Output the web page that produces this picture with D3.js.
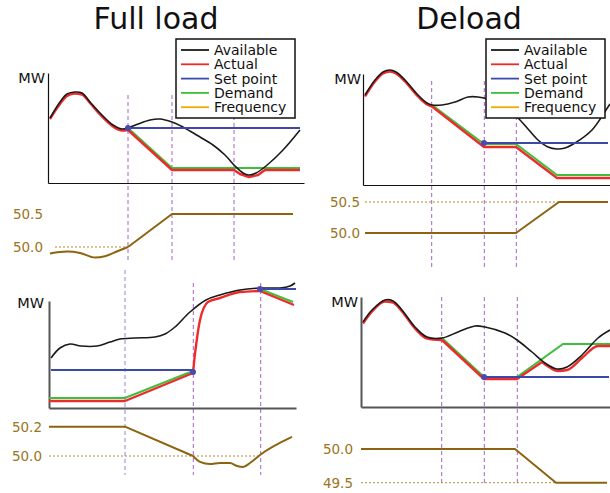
<!DOCTYPE html>
<html>
<head>
<meta charset="utf-8">
<script src="https://cdn.jsdelivr.net/npm/d3@7"></script>
<style>
  body { margin: 0; background: #fff; }
  svg { display: block; font-family: "DejaVu Sans", sans-serif; }
</style>
</head>
<body>
<svg id="chart" width="610" height="493"></svg>
<script>
// 범례
var legendLabels = ["Available", "Actual", "Set point", "Demand", "Frequency"];
var legendColors = ["#1a1a1a", "#ee2b2b", "#3b4aa8", "#3cc03c", "#f2a900"];

// Full load - MW (time, MW)
var tlAvailable = [[0.2,65],[1.2,81],[1.9,89],[2.7,91],[3.4,90],[4.2,81],[5.2,70],[6.5,58],[7.4,54],[8.0,55],[9.0,59],[10.2,63],[11.2,64],[12.4,61],[13.3,57],[14.2,52],[15.2,46],[16.5,38],[17.7,28],[18.7,17],[19.5,10],[20.1,8],[20.8,10],[21.8,17],[23.5,33],[25.2,53]];
var tlActualCurve = [[0.2,64],[1.2,79],[1.9,87],[2.7,89.5],[3.4,88.5],[4.2,80],[5.2,68.5],[6.5,56.5],[7.4,52.5],[8.0,53]];
var tlActual = [[8.0,53],[12.4,13],[18.6,13],[19.2,9],[20.1,6],[21.0,8],[21.7,13],[25.2,13]];
var tlDemand = [[8.0,55],[12.4,15],[25.2,15]];
var tlSetPoint = [[8.0,55],[25.2,55]];
var tlSetMarks = [[8.0,55]];
var tlMarks = [8.0, 12.4, 18.6];
var tlFreqCurve = [[0.2,49.90],[1.9,49.93],[3.2,49.91],[4.7,49.84],[5.7,49.86],[7.0,49.94],[8.0,50.0]];
var tlFreq = [[8.0,50.0],[12.4,50.5],[24.5,50.5]];
var tlFreqTicks = [50.0, 50.5];

// Deload - MW
var trAvailable = [[0.2,90],[1.2,105],[2.0,113],[2.7,115],[3.3,113],[4.2,105],[5.5,90],[6.4,82],[6.9,80],[7.9,80],[9.2,83],[10.5,88],[11.5,88],[12.4,86],[14.2,77],[15.5,67],[16.5,56],[17.5,45],[18.5,38],[19.4,36],[20.2,37],[21.2,42],[22.9,55],[24.5,78],[24.7,81]];
var trActualCurve = [[0.2,88.5],[1.2,103.5],[2.0,111.5],[2.7,113.5],[3.3,111.5],[4.2,103.5],[5.5,88.5],[6.4,80.5],[6.9,78.5]];
var trActual = [[6.9,78.5],[12.1,38],[15.3,38],[19.4,7],[24.7,7]];
var trDemand = [[6.9,80],[12.1,41],[15.3,41],[19.4,10],[24.7,10]];
var trSetPoint = [[12.1,42],[24.5,42]];
var trSetMarks = [[12.1,42]];
var trMarks = [6.87, 12.13, 15.33];
var trFreq = [[0.2,50.0],[15.3,50.0],[19.6,50.5],[24.5,50.5]];
var trFreqTicks = [50.0, 50.5];

// Full load (아래) - MW
var blAvailable = [[0.2,50],[1.1,60],[2.1,64],[3.2,62],[4.8,62],[6.1,66],[7.1,69],[8.6,70],[10.6,71],[11.6,74],[12.6,81],[14.1,96],[15.7,108],[17.1,113],[19.1,118],[21.1,120],[23.1,120],[24.1,122],[24.6,125]];
var blActual = [[0,7],[7.6,7],[14.4,35]];
var blActualCurve = [[14.4,35],[14.55,50],[14.75,66],[15.1,88],[15.9,106],[17.1,110],[19.1,116],[21.1,117]];
var blActualEnd = [[21.1,117],[24.5,103]];
var blDemand = [[0,10],[7.6,10],[14.4,37]];
var blDemandEnd = [[21.1,119],[24.4,106]];
var blSetPoint = [[0.2,38],[14.4,38]];
var blSetPointEnd = [[21.1,119],[24.7,119]];
var blSetMarks = [[14.4,36],[21.1,119]];
var blMarks = [7.6, 14.43, 21.17];
var blFreq = [[0,50.2],[7.6,50.2],[14.4,50.0]];
var blFreqCurve = [[14.4,50.0],[15.1,49.96],[16.1,49.945],[17.1,49.952],[18.1,49.952],[18.8,49.932],[19.4,49.925],[20.1,49.952],[21.1,50.007],[24.3,50.13]];
var blFreqTicks = [50.0, 50.2];

// Deload (아래) - MW
var brAvailable = [[0.2,85],[1.1,97],[2.4,107],[3.2,106],[4.1,97],[5.4,80],[6.6,70],[8.1,69],[9.7,75],[11.4,81],[12.4,80],[14.4,74],[15.6,67],[17.1,55],[18.4,44],[19.6,38],[20.6,40],[22.1,52],[23.7,69],[24.9,77]];
var brActualCurve = [[0.2,83.5],[1.1,95.5],[2.4,105.5],[3.2,104.5],[4.1,95.5],[5.4,78.5],[6.6,68.5],[8.1,67]];
var brActual = [[8.1,67],[12.3,28],[15.6,28],[18.1,45]];
var brActualEnd = [[18.1,45],[18.8,40],[19.7,36],[20.6,37],[22.1,49],[23.7,61],[24.9,61]];
var brDemand = [[8.1,69],[12.3,30],[15.6,30],[20.2,63],[24.9,63]];
var brSetPoint = [[12.3,30],[24.8,30]];
var brSetMarks = [[12.3,30]];
var brMarks = [8.07, 12.33, 15.63];
var brFreq = [[0,50.0],[15.4,50.0],[19.5,49.5],[24.6,49.5]];
var brFreqTicks = [49.5, 50.0];

var svg = d3.select("#chart");

var freqLine = "#8c6410", freqText = "#9a7420", refColor = "#b48a30", markColor = "#a860c8";

// 제목
svg.append("text").attr("x", 156).attr("y", 29).attr("text-anchor", "middle")
   .style("font-size", "30px").attr("fill", "#111").text("Full load");
svg.append("text").attr("x", 469).attr("y", 29).attr("text-anchor", "middle")
   .style("font-size", "30px").attr("fill", "#111").text("Deload");

// 패널 그리기
var drawPanel = function(p){
  var x = d3.scaleLinear().domain(p.xDomain).range(p.xRange);
  var y = d3.scaleLinear().domain(p.yDomain).range(p.yRange);
  var fy = d3.scaleLinear().domain(p.fDomain).range(p.fRange);
  var g = svg.append("g");

  var line = function(scaleY, curve){
    return d3.line().x(function(d){ return x(d[0]); }).y(function(d){ return scaleY(d[1]); }).curve(curve || d3.curveLinear);
  };

  // 세로 점선
  g.selectAll(".mark").data(p.marks).enter().append("line")
   .attr("x1", function(d){ return x(d); }).attr("x2", function(d){ return x(d); })
   .attr("y1", function(d, i){ return p.markTop[i]; }).attr("y2", p.markBottom)
   .attr("stroke", function(d, i){ return p.markColors ? p.markColors[i] : markColor; })
   .attr("stroke-width", 1).attr("stroke-dasharray", "4,3");

  // 축
  g.append("g").attr("transform", "translate(" + p.xRange[0] + ",0)")
   .call(d3.axisLeft(y).tickValues([]).tickSizeOuter(0))
   .select(".domain").attr("stroke", p.axisColor).attr("stroke-width", p.axisWidth);
  g.append("g").attr("transform", "translate(0," + p.yRange[0] + ")")
   .call(d3.axisBottom(x).tickValues([]).tickSizeOuter(0))
   .select(".domain").attr("stroke", p.axisColor).attr("stroke-width", p.axisWidth);

  g.append("text").attr("x", p.mwX).attr("y", p.mwY).attr("text-anchor", "end")
   .style("font-size", "14.5px").attr("fill", "#111").text("MW");

  // MW 선들
  p.demand.forEach(function(s){
    g.append("path").datum(s).attr("fill", "none").attr("stroke", legendColors[3])
     .attr("stroke-width", 2).attr("d", line(y));
  });
  p.actual.forEach(function(s){
    g.append("path").datum(s.data).attr("fill", "none").attr("stroke", legendColors[1])
     .attr("stroke-width", 2.4).attr("stroke-linejoin", "round")
     .attr("d", line(y, s.smooth ? d3.curveMonotoneX : d3.curveLinear));
  });
  g.append("path").datum(p.available).attr("fill", "none").attr("stroke", legendColors[0])
   .attr("stroke-width", 1.6).attr("d", line(y, d3.curveCatmullRom.alpha(0.5)));
  p.setPoint.forEach(function(s){
    g.append("path").datum(s).attr("fill", "none").attr("stroke", legendColors[2])
     .attr("stroke-width", 1.8).attr("d", line(y));
  });
  g.selectAll(".setmark").data(p.setMarks).enter().append("circle")
   .attr("cx", function(d){ return x(d[0]); }).attr("cy", function(d){ return y(d[1]); })
   .attr("r", 3).attr("fill", "#4a4ab0");

  // 주파수
  g.append("line").attr("x1", x(p.fRef[0])).attr("x2", x(p.fRef[1]))
   .attr("y1", fy(p.fRef[2])).attr("y2", fy(p.fRef[2]))
   .attr("stroke", refColor).attr("stroke-width", 1).attr("stroke-dasharray", "2,2");
  p.freq.forEach(function(s){
    g.append("path").datum(s.data).attr("fill", "none").attr("stroke", freqLine)
     .attr("stroke-width", 2).attr("stroke-linejoin", "round")
     .attr("d", line(fy, s.smooth ? d3.curveMonotoneX : d3.curveLinear));
  });
  var fa = g.append("g").attr("transform", "translate(" + p.xRange[0] + ",0)")
   .call(d3.axisLeft(fy).tickValues(p.fTicks).tickFormat(d3.format(".1f")).tickSize(0).tickPadding(p.fPad));
  fa.select(".domain").remove();
  fa.selectAll("text").attr("fill", freqText)
    .style("font-family", "'DejaVu Sans', sans-serif").style("font-size", "13.5px");

  // 범례
  if (p.legend){
    var lg = g.append("g").attr("transform", "translate(" + p.legend[0] + "," + p.legend[1] + ")");
    lg.append("rect").attr("width", 119).attr("height", 79)
      .attr("fill", "#fff").attr("stroke", "#111").attr("stroke-width", 1.5);
    var item = lg.selectAll(".item").data(legendLabels).enter().append("g")
      .attr("transform", function(d, i){ return "translate(0," + (16 + i * 14.3) + ")"; });
    item.append("line").attr("x1", 5).attr("x2", 33).attr("y1", -5).attr("y2", -5)
      .attr("stroke", function(d, i){ return legendColors[i]; }).attr("stroke-width", 1.8);
    item.append("text").attr("x", 38).attr("y", 0).style("font-size", "14px")
      .attr("fill", "#111").text(function(d){ return d; });
  }
};

drawPanel({
  xDomain: [0, 25.6], xRange: [48, 304], yDomain: [0, 110], yRange: [183, 73],
  fDomain: [50, 50.5], fRange: [247, 214], fTicks: tlFreqTicks, fPad: 5,
  marks: tlMarks, markTop: [95, 95, 95], markBottom: 263,
  axisColor: "#111", axisWidth: 1.2, mwX: 45, mwY: 83,
  available: tlAvailable,
  actual: [{data: tlActualCurve, smooth: true}, {data: tlActual}],
  demand: [tlDemand], setPoint: [tlSetPoint], setMarks: tlSetMarks,
  freq: [{data: tlFreqCurve, smooth: true}, {data: tlFreq}], fRef: [0.7, 8.0, 50.0],
  legend: [176, 39]
});

drawPanel({
  xDomain: [0, 24.7], xRange: [363, 610], yDomain: [0, 111], yRange: [185, 74],
  fDomain: [50, 50.5], fRange: [233, 202], fTicks: trFreqTicks, fPad: 3,
  marks: trMarks, markTop: [81, 81, 81], markBottom: 270,
  axisColor: "#111", axisWidth: 1.2, mwX: 361, mwY: 84,
  available: trAvailable,
  actual: [{data: trActualCurve, smooth: true}, {data: trActual}],
  demand: [trDemand], setPoint: [trSetPoint], setMarks: trSetMarks,
  freq: [{data: trFreq}], fRef: [0.2, 19.6, 50.5],
  legend: [486, 39]
});

drawPanel({
  xDomain: [0, 24.7], xRange: [49, 296], yDomain: [0, 107], yRange: [408, 301],
  fDomain: [50, 50.2], fRange: [456, 426.7], fTicks: blFreqTicks, fPad: 7,
  marks: blMarks, markTop: [270, 283, 283], markBottom: 475,
  markColors: ["#8f86d8", markColor, markColor],
  axisColor: "#555", axisWidth: 2, mwX: 44, mwY: 308,
  available: blAvailable,
  actual: [{data: blActual}, {data: blActualCurve, smooth: true}, {data: blActualEnd}],
  demand: [blDemand, blDemandEnd], setPoint: [blSetPoint, blSetPointEnd], setMarks: blSetMarks,
  freq: [{data: blFreq}, {data: blFreqCurve, smooth: true}], fRef: [0, 21.1, 50.0]
});

drawPanel({
  xDomain: [0, 24.9], xRange: [361, 610], yDomain: [0, 110], yRange: [407, 297],
  fDomain: [49.5, 50], fRange: [482.7, 449], fTicks: brFreqTicks, fPad: 8,
  marks: brMarks, markTop: [297, 297, 297], markBottom: 485,
  axisColor: "#555", axisWidth: 2, mwX: 358, mwY: 307,
  available: brAvailable,
  actual: [{data: brActualCurve, smooth: true}, {data: brActual}, {data: brActualEnd, smooth: true}],
  demand: [brDemand], setPoint: [brSetPoint], setMarks: brSetMarks,
  freq: [{data: brFreq}], fRef: [0, 19.5, 49.5]
});
</script>
</body>
</html>
